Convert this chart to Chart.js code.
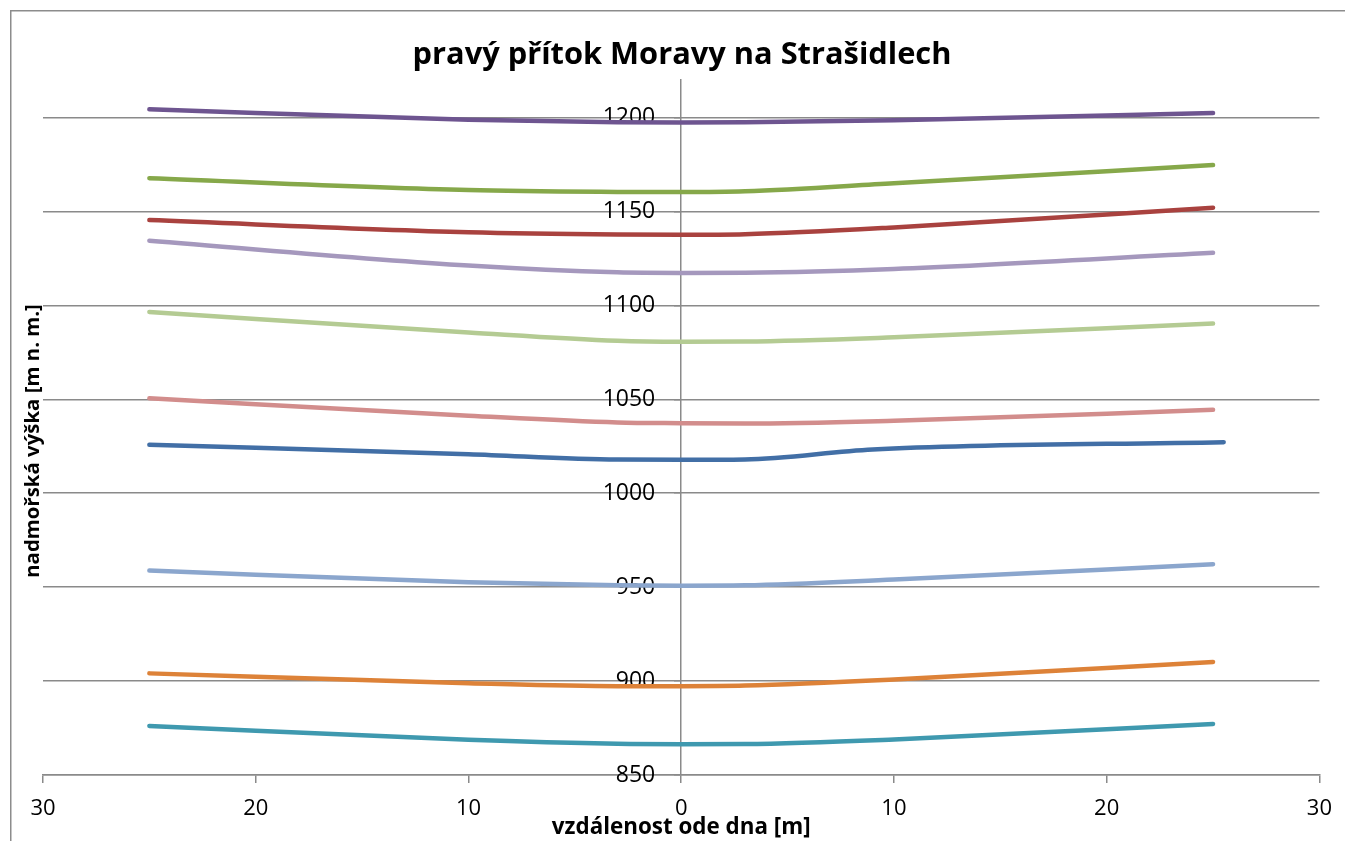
<!DOCTYPE html>
<html lang="cs">
<head>
<meta charset="utf-8">
<title>pravý přítok Moravy na Strašidlech</title>
<script src="https://cdn.jsdelivr.net/npm/chart.js@4/dist/chart.umd.min.js"></script>
<style>
  html, body { margin: 0; padding: 0; background: #ffffff; }
  #wrap { position: relative; width: 1345px; height: 841px; }
</style>
</head>
<body>
<div id="wrap"><canvas id="chart" width="1345" height="841"></canvas></div>
<script>
// Vzdálenosti od dna údolí [m] (záporné = levý svah)
const distances = [-25, -10, -3, 0, 3, 10, 25];
const distancesP7 = [-25, -10, -3, 0, 3, 9, 25.5];

// Nadmořské výšky jednotlivých příčných profilů [m n. m.]
const profile1 = [1204.4, 1198.8, 1197.5, 1197.3, 1197.5, 1198.6, 1202.4];
const profile2 = [1167.7, 1161.4, 1160.4, 1160.3, 1160.7, 1165.0, 1174.7];
const profile3 = [1145.4, 1138.9, 1137.7, 1137.6, 1137.9, 1141.5, 1152.0];
const profile4 = [1134.4, 1121.2, 1117.6, 1117.3, 1117.4, 1119.4, 1128.0];
const profile5 = [1096.5, 1085.6, 1081.2, 1080.7, 1080.8, 1083.0, 1090.3];
const profile6 = [1050.5, 1041.3, 1037.7, 1037.3, 1037.1, 1038.6, 1044.4];
const profile7 = [1025.8, 1020.8, 1017.9, 1017.8, 1018.0, 1023.3, 1027.2];
const profile8 = [958.8, 952.6, 951.0, 950.8, 951.0, 954.1, 962.2];
const profile9 = [904.1, 898.9, 897.3, 897.3, 897.6, 900.8, 910.2];
const profile10 = [876.1, 868.7, 866.6, 866.4, 866.5, 868.9, 877.2];

// Popisky os
const yTicks = [850, 900, 950, 1000, 1050, 1100, 1150, 1200];
const xTicks = [-30, -20, -10, 0, 10, 20, 30];

const series = [
  { x: distances,   y: profile1,  color: '#6e5590' },
  { x: distances,   y: profile2,  color: '#86a84a' },
  { x: distances,   y: profile3,  color: '#a9423f' },
  { x: distances,   y: profile4,  color: '#a598bd' },
  { x: distances,   y: profile5,  color: '#b4cb93' },
  { x: distances,   y: profile6,  color: '#d28d8c' },
  { x: distancesP7, y: profile7,  color: '#426fa6' },
  { x: distances,   y: profile8,  color: '#8ba6cd' },
  { x: distances,   y: profile9,  color: '#dd8238' },
  { x: distances,   y: profile10, color: '#3f99af' }
];

const GRID = '#8a8a8a';
const FONT = '"Open Sans", Lato, sans-serif';

// Rámeček grafu a svislý popis osy y
const framePlugin = {
  id: 'frame',
  beforeDraw(chart) {
    const ctx = chart.ctx;
    ctx.save();
    ctx.fillStyle = '#ffffff';
    ctx.fillRect(0, 0, chart.width, chart.height);
    ctx.strokeStyle = '#8c8c8c';
    ctx.lineWidth = 1.5;
    ctx.beginPath();
    ctx.moveTo(10.75, chart.height + 5);
    ctx.lineTo(10.75, 10.75);
    ctx.lineTo(chart.width + 5, 10.75);
    ctx.stroke();
    ctx.restore();
  },
  afterDraw(chart) {
    const ctx = chart.ctx;
    ctx.save();
    ctx.translate(33, 441);
    ctx.rotate(-Math.PI / 2);
    ctx.font = 'bold 20.4px ' + FONT;
    ctx.fillStyle = '#000000';
    ctx.textAlign = 'center';
    ctx.textBaseline = 'middle';
    ctx.fillText('nadmořská výška [m n. m.]', 0, 0);
    ctx.restore();
  }
};

const yRange = { min: 850, max: 1220 };

new Chart(document.getElementById('chart'), {
  type: 'scatter',
  data: {
    datasets: series.map((s, i) => ({
      label: 'profil ' + (i + 1),
      data: s.x.map((x, k) => ({ x: x, y: s.y[k] })),
      showLine: true,
      borderColor: s.color,
      backgroundColor: s.color,
      borderWidth: 4.5,
      borderCapStyle: 'round',
      borderJoinStyle: 'round',
      cubicInterpolationMode: 'monotone',
      pointRadius: 0,
      pointHoverRadius: 0
    }))
  },
  options: {
    responsive: false,
    devicePixelRatio: 1,
    animation: false,
    layout: { padding: { left: 43, right: 24, top: 0, bottom: 0 } },
    plugins: {
      legend: { display: false },
      tooltip: { enabled: false },
      title: {
        display: true,
        text: 'pravý přítok Moravy na Strašidlech',
        color: '#000000',
        font: { family: FONT, size: 30.8, weight: 'bold', lineHeight: 1.2 },
        padding: { top: 37, bottom: 6 }
      }
    },
    scales: {
      x: {
        type: 'linear',
        position: 'bottom',
        min: -30,
        max: 30,
        afterBuildTicks(scale) { scale.ticks = xTicks.map(v => ({ value: v })); },
        afterFit(scale) { scale.height = 66; },
        ticks: {
          color: '#000000',
          font: { family: FONT, size: 22 },
          padding: 13,
          maxRotation: 0,
          callback: v => String(Math.abs(v))
        },
        grid: {
          display: true,
          drawOnChartArea: false,
          drawTicks: true,
          tickLength: 8,
          color: GRID,
          lineWidth: 1.5
        },
        border: { display: true, color: GRID, width: 1.5 },
        title: {
          display: true,
          text: 'vzdálenost ode dna [m]',
          color: '#000000',
          font: { family: FONT, size: 22.4, weight: 'bold', lineHeight: 1.2 },
          padding: { top: 0, bottom: 0 }
        }
      },
      // svislá osa procházející dnem údolí (čára, značky, mřížka)
      y: {
        type: 'linear',
        position: { x: 0 },
        min: yRange.min,
        max: yRange.max,
        afterBuildTicks(scale) { scale.ticks = yTicks.map(v => ({ value: v })); },
        ticks: { display: false },
        grid: {
          display: true,
          drawTicks: true,
          tickLength: 6,
          color: GRID,
          lineWidth: 1.5
        },
        border: { display: true, color: GRID, width: 1.5 }
      },
      // popisky výšek vlevo od osy
      yLabels: {
        type: 'linear',
        position: { x: -1.22 },
        min: yRange.min,
        max: yRange.max,
        afterBuildTicks(scale) { scale.ticks = yTicks.map(v => ({ value: v })); },
        ticks: {
          color: '#000000',
          font: { family: FONT, size: 23 },
          callback: v => String(v)
        },
        grid: { display: false, drawTicks: false },
        border: { display: false }
      }
    }
  },
  plugins: [framePlugin]
});
</script>
</body>
</html>
